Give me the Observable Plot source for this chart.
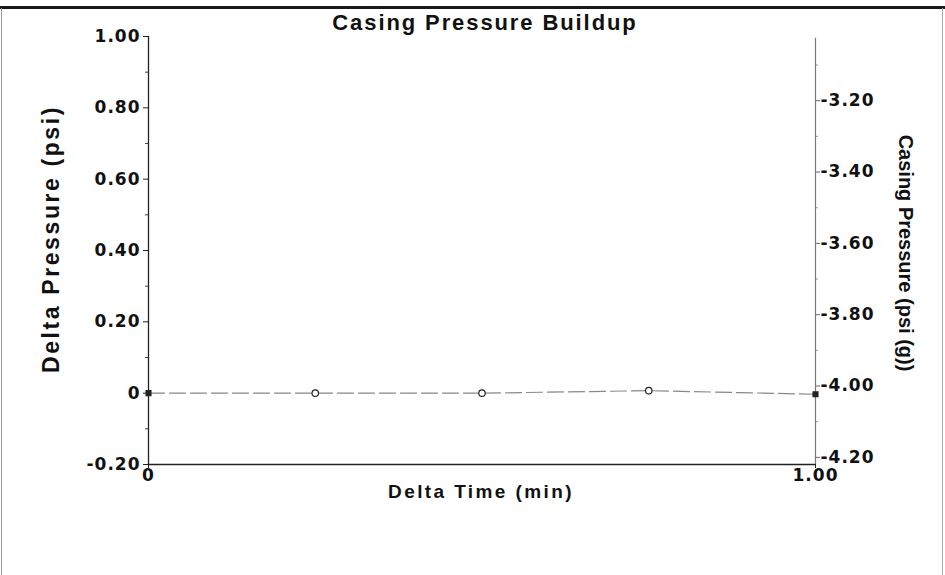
<!DOCTYPE html>
<html>
<head>
<meta charset="utf-8">
<script src="https://cdn.jsdelivr.net/npm/d3@7"></script>
<script src="https://cdn.jsdelivr.net/npm/@observablehq/plot@0.6"></script>
<style>
  html, body { margin: 0; padding: 0; background: #fff; }
  #wrap { position: relative; width: 945px; height: 575px; overflow: hidden; background: #fff; }
  #wrap svg { position: absolute; left: 0; top: 0; z-index: 1; }
  #wrap svg text { letter-spacing: 1px; }
  .lbl { position: absolute; z-index: 2; font-family: "Liberation Sans", Arial, sans-serif; font-weight: bold; color: #111; white-space: nowrap; }
  #title { left: 0; width: 970px; top: 10px; text-align: center; font-size: 22px; letter-spacing: 1.9px; }
  #xlabel { left: 0; width: 962px; top: 481px; text-align: center; font-size: 19px; letter-spacing: 2.4px; }
  #ylabel { left: 51px; top: 239px; font-size: 23px; letter-spacing: 2.6px; transform: translate(-50%, -50%) rotate(-90deg); }
  #y2label { left: 905px; top: 253px; font-size: 20px; letter-spacing: 0px; transform: translate(-50%, -50%) rotate(90deg); }
</style>
</head>
<body>
<div id="wrap">
  <div class="lbl" id="title">Casing Pressure Buildup</div>
  <div class="lbl" id="xlabel">Delta Time (min)</div>
  <div class="lbl" id="ylabel">Delta Pressure (psi)</div>
  <div class="lbl" id="y2label">Casing Pressure (psi (g))</div>
</div>
<script>
// ---- data ----
const deltaTime = [0, 0.25, 0.5, 0.75, 1.0];
const deltaPressure = [0, 0, 0, 0.007, -0.003];
const markerKind = ["square", "circle", "circle", "circle", "square"];

const leftTicks = [-0.2, 0, 0.2, 0.4, 0.6, 0.8, 1.0];
const leftTickLabels = ["-0.20", "0", "0.20", "0.40", "0.60", "0.80", "1.00"];
const leftMinorTicks = [-0.1, 0.1, 0.3, 0.5, 0.7, 0.9];

const casingOffset = -4.02; // casing pressure = delta pressure + offset
const rightTicks = [-4.2, -4.0, -3.8, -3.6, -3.4, -3.2];
const rightTickLabels = ["-4.20", "-4.00", "-3.80", "-3.60", "-3.40", "-3.20"];
const rightMinorTicks = [-4.1, -3.9, -3.7, -3.5, -3.3, -3.1];

const xTicks = [0, 1];
const xTickLabels = ["0", "1.00"];

// ---- build ----
const rows = deltaTime.map((t, i) => ({t, p: deltaPressure[i], kind: markerKind[i]}));
const circles = rows.filter(d => d.kind === "circle");
const squares = rows.filter(d => d.kind === "square");

const tickFont = {fontSize: 17, fontWeight: "bold", fontFamily: "DejaVu Sans, sans-serif"};

// page frame (decoration): top rule and side borders
function pageFrame(index, scales, values, dim) {
  const g = d3.create("svg:g");
  g.append("rect").attr("x", 0).attr("y", 6).attr("width", dim.width).attr("height", 3)
    .attr("fill", "#1a1a1a");
  g.append("rect").attr("x", 1).attr("y", 8).attr("width", 1).attr("height", dim.height)
    .attr("fill", "#999");
  g.append("rect").attr("x", dim.width - 3).attr("y", 8).attr("width", 1).attr("height", dim.height)
    .attr("fill", "#aaa");
  return g.node();
}

const chart = Plot.plot({
  width: 945,
  height: 575,
  marginLeft: 148,
  marginRight: 130,
  marginTop: 36,
  marginBottom: 111,
  style: {background: "transparent", color: "#111", overflow: "visible"},
  x: {domain: [0, 1]},
  y: {domain: [-0.2, 1.0]},
  marks: [
    pageFrame,
    Plot.lineY(rows, {x: "t", y: "p", stroke: "#888", strokeWidth: 1.2, strokeDasharray: "16,5"}),
    Plot.ruleY([-0.2], {stroke: "#222", strokeWidth: 1.3}),
    Plot.ruleX([0], {stroke: "#222", strokeWidth: 1.3}),
    Plot.ruleX([1], {y1: -0.2, y2: 0.995, stroke: "#777", strokeWidth: 1.2}),
    Plot.axisY({anchor: "left", ticks: leftTicks, tickFormat: d => leftTickLabels[leftTicks.indexOf(d)], tickSize: 5, tickPadding: 3, stroke: "#222", label: null, ...tickFont}),
    Plot.axisY({anchor: "left", ticks: leftMinorTicks, tickFormat: () => "", tickSize: 3, stroke: "#444", label: null}),
    Plot.axisY({anchor: "right", ticks: rightTicks.map(r => r - casingOffset), tickFormat: d => rightTickLabels[rightTicks.findIndex(r => Math.abs(r - casingOffset - d) < 1e-9)], tickSize: 4, tickPadding: 1, stroke: "#666", label: null, ...tickFont}),
    Plot.axisY({anchor: "right", ticks: rightMinorTicks.map(r => r - casingOffset), tickFormat: () => "", tickSize: 2, stroke: "#999", label: null}),
    Plot.axisX({ticks: xTicks, tickFormat: d => xTickLabels[xTicks.indexOf(d)], tickSize: 4, tickPadding: 0, stroke: "#222", label: null, ...tickFont}),
    Plot.dot(circles, {x: "t", y: "p", r: 3.2, fill: "white", stroke: "#222", strokeWidth: 1.2}),
    Plot.dot(squares, {x: "t", y: "p", symbol: "square", r: 2.6, fill: "#222", stroke: "#222"})
  ]
});
document.getElementById("wrap").appendChild(chart);
</script>
</body>
</html>
